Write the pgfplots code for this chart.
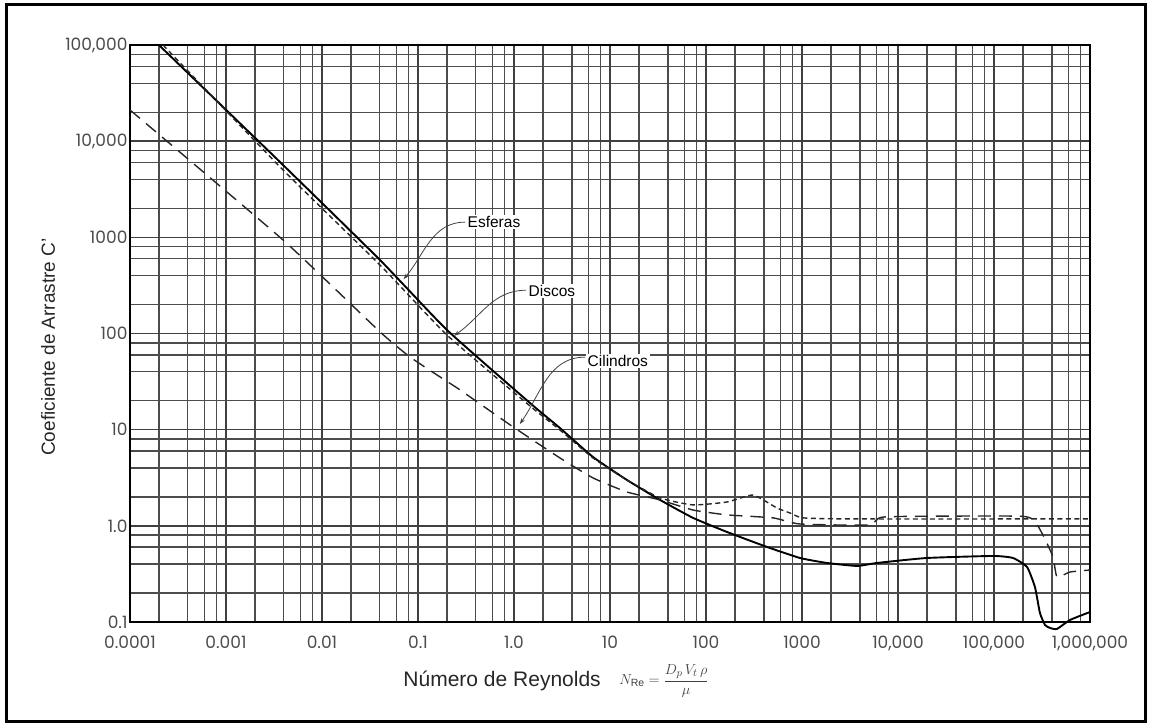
\documentclass[border=0pt]{standalone}
\usepackage{pgfplots}
\pgfplotsset{compat=1.18}
\usepackage{amsmath}
\usepackage{fontspec}
\setmainfont{Liberation Sans}
\newfontfamily\tickfont{Poppins}
\usetikzlibrary{arrows.meta}
\begin{document}
\begin{tikzpicture}
\useasboundingbox (0pt,0pt) rectangle (1150pt,725pt);
\draw[line width=3pt] (6pt,4pt) rectangle (1145pt,720pt);
\begin{axis}[
  at={(130pt,103pt)}, anchor=south west,
  scale only axis, width=960pt, height=577pt,
  xmode=log, ymode=log,
  xmin=1e-4, xmax=1e6, ymin=0.1, ymax=1e5,
  xtick={1e-4,1e-3,0.01,0.1,1,10,100,1000,1e4,1e5,1e6},
  xticklabels={0.0001,0.001,0.01,0.1,1.0,10,100,1000,{10,000},{100,000},{1,000,000}},
  ytick={0.1,1,10,100,1000,1e4,1e5},
  yticklabels={0.1,1.0,10,100,1000,{10,000},{100,000}},
  minor xtick={2e-4,4e-4,6e-4,8e-4,2e-3,4e-3,6e-3,8e-3,0.02,0.04,0.06,0.08,0.2,0.4,0.6,0.8,2,4,6,8,20,40,60,80,200,400,600,800,2000,4000,6000,8000,2e4,4e4,6e4,8e4,2e5,4e5,6e5,8e5},
  minor ytick={0.2,0.4,0.6,0.8,2,4,6,8,20,40,60,80,200,400,600,800,2000,4000,6000,8000,2e4,4e4,6e4,8e4},
  grid=both,
  major grid style={black!75, line width=1.5pt},
  minor grid style={black!70, line width=1.4pt},
  major tick length=0pt, minor tick length=0pt,
  axis line style={black, line width=1.6pt},
  xticklabel style={font=\tickfont\fontsize{17}{17}\selectfont, text=black!70, yshift=-10pt},
  yticklabel style={font=\tickfont\fontsize{17}{17}\selectfont, text=black!70, xshift=1pt},
  clip=false,
]
% Esferas (spheres)
\addplot[black, line width=1.9pt, smooth, tension=0.3] coordinates {
(0.0002,100000) (0.00393,5650) (0.0402,581) (0.2,109) (1.47,18.9) (3.01,10.4)
(6.65,5.2) (15,3.0) (33.2,1.86) (73.3,1.21) (165.6,0.863) (432,0.603) (953,0.463)
(1820,0.411) (3740,0.383) (6040,0.411) (20000,0.463) (97700,0.486) (158000,0.463)
(221000,0.373) (267000,0.231) (301000,0.124) (340000,0.0931) (383000,0.0867)
(453000,0.0847) (619000,0.105) (1000000,0.127)};
% Discos (disks)
\addplot[black!85, line width=1.4pt, dash pattern=on 5pt off 3.5pt, smooth, tension=0.3] coordinates {
(0.000221,100000) (0.00393,5010) (0.0402,515) (0.2,96.5) (1.47,17.6) (3.01,9.93)
(6.65,5.08) (15,3.0) (33.2,1.95) (73.3,1.65) (165.6,1.77) (309,2.09) (550,1.53)
(750,1.36) (1023,1.21) (3160,1.18) (1000000,1.18)};
% Cilindros (cylinders)
\addplot[black!85, line width=1.4pt, dash pattern=on 13pt off 8pt, smooth, tension=0.3] coordinates {
(0.0001,21100) (0.00393,938) (0.0402,104) (0.0826,57) (0.17,35.3) (0.274,25.9)
(0.976,10.7) (3.01,5.08)
(6.65,3.15) (15,2.25) (33.2,1.86) (73.3,1.46) (165.6,1.30) (499,1.21) (953,1.045)
(5100,1.02) (7330,1.24) (187000,1.26) (267000,1.10) (324000,0.80) (412000,0.474)
(453000,0.294) (619000,0.331) (1000000,0.347)};
% annotations
\node[font=\fontsize{15.5}{16}\selectfont, anchor=west, fill=white, inner sep=1.5pt] at (rel axis cs:0.350,0.693) {Esferas};
\draw[black!75, line width=0.8pt, -{Stealth[length=6pt,width=4pt]}] (rel axis cs:0.349,0.693) to[out=180,in=50] (rel axis cs:0.285,0.594);
\node[font=\fontsize{15.5}{16}\selectfont, anchor=west, fill=white, inner sep=1.5pt] at (rel axis cs:0.4135,0.574) {Discos};
\draw[black!75, line width=0.8pt, -{Stealth[length=6pt,width=4pt]}] (rel axis cs:0.4125,0.575) to[out=180,in=35] (rel axis cs:0.3375,0.496);
\node[font=\fontsize{15.5}{16}\selectfont, anchor=west, fill=white, inner sep=1.5pt] at (rel axis cs:0.475,0.452) {Cilindros};
\draw[black!75, line width=0.8pt, -{Stealth[length=6pt,width=4pt]}] (rel axis cs:0.474,0.459) to[out=180,in=55] (rel axis cs:0.406,0.343);
% axis titles
\node[font=\fontsize{21}{22}\selectfont, anchor=west, text=black!85] at (rel axis cs:0.2812,-0.1023) {Número de Reynolds};
\node[font=\fontsize{15}{16}\selectfont, anchor=west, text=black!75] at (rel axis cs:0.5062,-0.1023) {$N_{\mathrm{Re}}=\dfrac{D_p\,V_t\,\rho}{\mu}$};
\node[font=\fontsize{19}{20}\selectfont, rotate=90, text=black!85] at (rel axis cs:-0.0854,0.4766) {Coeficiente de Arrastre C'};
\end{axis}
\end{tikzpicture}
\end{document}
